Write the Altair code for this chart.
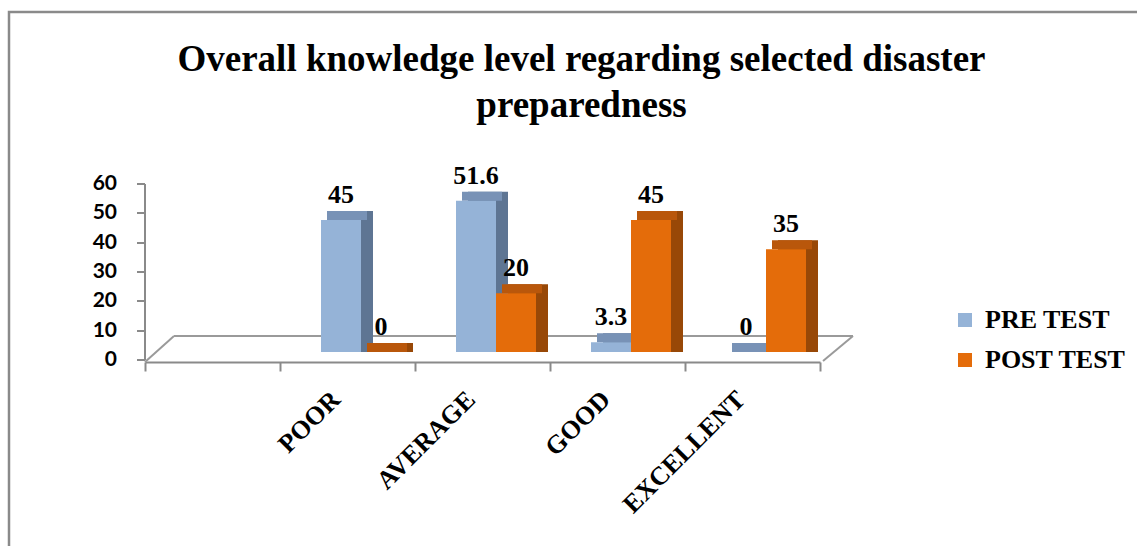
import altair as alt
import pandas as pd

categories = ["POOR", "AVERAGE", "GOOD", "EXCELLENT"]
pre_test = [45, 51.6, 3.3, 0]
post_test = [0, 20, 45, 35]
series = ["PRE TEST", "POST TEST"]
y_ticks = [0, 10, 20, 30, 40, 50, 60]
title_lines = ["Overall knowledge level regarding selected disaster", "preparedness"]

front_colors = ["#95B3D7", "#E46C0A"]
side_colors = ["#5E7593", "#984807"]
top_colors = ["#7892B6", "#B9570B"]

rows = []
for c, a, b in zip(categories, pre_test, post_test):
    rows.append({"cat": c, "series": series[0], "value": a})
    rows.append({"cat": c, "series": series[1], "value": b})
df = pd.DataFrame(rows)

x_domain = [" "] + categories
one = pd.DataFrame({"k": [0]})

SERIF = "Liberation Serif"
GRAY = "#8a8a8a"

x_axis = alt.Axis(
    title=None, offset=10, domainColor=GRAY, domainWidth=2, tickColor=GRAY,
    tickWidth=2, tickSize=9, tickBand="extent", labelAngle=315,
    labelAlign="right", labelBaseline="middle", labelFont=SERIF,
    labelFontWeight="bold", labelFontSize=26, labelColor="black",
    labelPadding=24, labelOffset=-12,
)
y_axis = alt.Axis(
    title=None, values=y_ticks, grid=False, offset=8, translate=8,
    domainColor=GRAY, domainWidth=2, tickColor=GRAY, tickWidth=2, tickSize=8,
    labelFont="Lato", labelFontWeight="bold", labelFontSize=21,
    labelColor="black", labelPadding=20,
)
x_scale = alt.Scale(domain=x_domain, paddingInner=0, paddingOuter=0)
y_scale = alt.Scale(domain=[0, 60], nice=False)

x_enc = alt.X("cat:N", sort=x_domain, scale=x_scale, axis=x_axis)
y_enc = alt.Y("value:Q", scale=y_scale, axis=y_axis)


def xo(rng):
    return alt.XOffset("series:N",
                       scale=alt.Scale(domain=series, range=rng, paddingInner=0, paddingOuter=0))


# frame and floor (decoration)
frame = alt.Chart(one).mark_rect(fill=None, stroke=GRAY, strokeWidth=2.5).encode(
    x=alt.value(-136), x2=alt.value(1010), y=alt.value(-164), y2=alt.value(390)
)
floor_l = alt.Chart(one).mark_rule(color="#9a9a9a", strokeWidth=2).encode(
    x=alt.value(0), y=alt.value(186), x2=alt.value(29), y2=alt.value(160))
floor_b = alt.Chart(one).mark_rule(color="#9a9a9a", strokeWidth=2).encode(
    x=alt.value(29), y=alt.value(160), x2=alt.value(708), y2=alt.value(160))
floor_r = alt.Chart(one).mark_rule(color="#9a9a9a", strokeWidth=2).encode(
    x=alt.value(708), y=alt.value(160), x2=alt.value(678), y2=alt.value(185))

layers = [frame, floor_l, floor_b, floor_r]
for i, s in enumerate(series):
    base = alt.Chart(df).transform_filter(alt.datum.series == s)
    side = base.mark_bar(color=side_colors[i], yOffset=-9).encode(
        x=x_enc, xOffset=xo([53, 133]), y=y_enc, y2=alt.datum(0)
    )
    top = base.mark_bar(color=top_colors[i], yOffset=-9).encode(
        x=x_enc, xOffset=xo([47, 127]), y=y_enc, y2=alt.Y2("value:Q")
    )
    front = base.mark_bar().encode(
        x=x_enc,
        xOffset=xo([41, 121]),
        y=y_enc,
        color=alt.Color(
            "series:N",
            scale=alt.Scale(domain=series, range=front_colors),
            legend=alt.Legend(
                title=None, orient="none", legendX=807, legendY=131,
                symbolType="square", symbolSize=196, symbolStrokeWidth=0,
                labelFont=SERIF, labelFontWeight="bold", labelFontSize=26,
                labelColor="black", labelOffset=7, rowPadding=14,
            ),
        ),
    )
    layers += [side, top, front]

labels = alt.Chart(df).mark_text(
    font=SERIF, fontWeight="bold", fontSize=26, color="black", dy=-17,
    baseline="alphabetic",
).encode(x=x_enc, xOffset=xo([61, 101]), y=y_enc, text=alt.Text("value:Q"))
layers.append(labels)

chart = alt.layer(*layers).resolve_scale(xOffset="independent").properties(
    width=675, height=176,
    background="white",
    autosize=alt.AutoSizeParams(type="none"),
    padding={"left": 145, "top": 176, "right": 317, "bottom": 194},
    title=alt.TitleParams(
        text=title_lines, font=SERIF, fontSize=37, fontWeight="bold",
        color="black", anchor="middle", dx=99, dy=114, offset=0, lineHeight=46,
    ),
).configure_view(stroke=None)

chart.save("out.html", embed_options={"renderer": "svg", "actions": False})
